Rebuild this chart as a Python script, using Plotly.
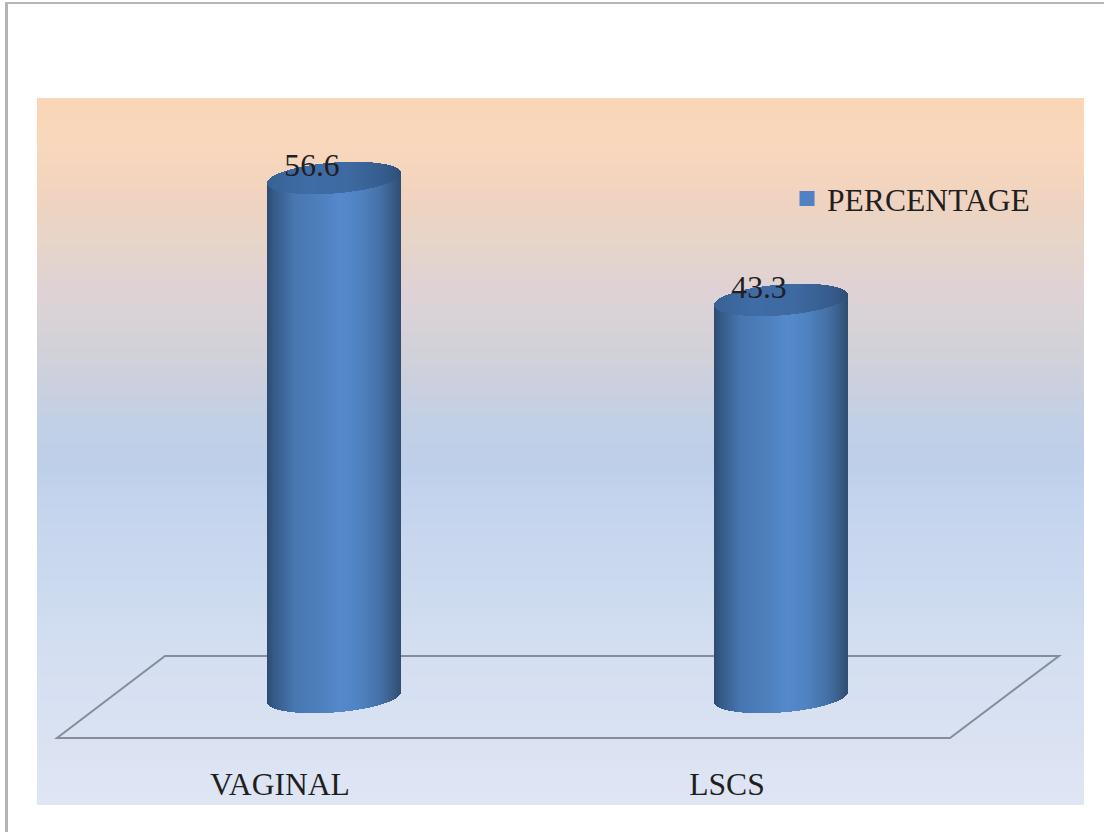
import numpy as np
import plotly.graph_objects as go

# Chart data
categories = ["VAGINAL", "LSCS"]
percentages = [56.6, 43.3]
series_name = "PERCENTAGE"

WIDTH, HEIGHT = 1104, 832
PLOT_LEFT, PLOT_RIGHT, PLOT_TOP, PLOT_BOTTOM = 37, 1084, 98, 805

# Axis scales: pixels per unit on each axis, and the pixel position of the origin
PX_PER_CATEGORY = 447.0
PX_PER_VALUE = 9.17
FIRST_CENTER_PX = 334.0
ZERO_PX = 697.0

x_range = [(PLOT_LEFT - FIRST_CENTER_PX) / PX_PER_CATEGORY,
           (PLOT_RIGHT - FIRST_CENTER_PX) / PX_PER_CATEGORY]
y_range = [(ZERO_PX - PLOT_BOTTOM) / PX_PER_VALUE,
           (ZERO_PX - PLOT_TOP) / PX_PER_VALUE]

# Cylinder shape, in pixels
RADIUS_X = 67
RADIUS_Y = 15.5
TILT = 5.0

# Shading stops across the cylinder, from left edge to right edge
BODY_STOPS = [(-1.0, (45, 75, 112)), (-0.9, (52, 90, 134)), (-0.6, (72, 118, 176)),
              (-0.2, (78, 128, 190)), (0.1, (84, 138, 205)), (0.4, (78, 130, 192)),
              (0.7, (68, 112, 166)), (0.9, (55, 90, 132)), (1.0, (48, 76, 112))]
CAP_STOPS = [(-1.0, (56, 98, 150)), (-0.4, (64, 108, 166)), (0.2, (62, 106, 162)),
             (0.8, (52, 90, 138)), (1.0, (46, 78, 120))]

# Background gradient stops: pixel row, colour
BG_STOPS = [(98, (250, 214, 183)), (144, (249, 215, 188)), (198, (240, 211, 192)),
            (241, (230, 213, 200)), (287, (224, 210, 212)), (334, (213, 210, 215)),
            (384, (203, 208, 222)), (419, (194, 208, 229)), (466, (190, 207, 234)),
            (502, (197, 212, 238)), (573, (202, 217, 238)), (644, (211, 222, 241)),
            (805, (223, 229, 243))]


def ramp(stops, t):
    pos = [s[0] for s in stops]
    return tuple(np.interp(t, pos, [s[1][c] for s in stops]) for c in range(3))


def rgb(c):
    return "rgb({:.0f},{:.0f},{:.0f})".format(*c)


def px_x(px):
    return px / WIDTH


def px_y(px):
    return 1 - px / HEIGHT


shapes = []

# Page frame: thin grey rule on the top and left
shapes.append(dict(type="rect", xref="paper", yref="paper", layer="below",
                   x0=px_x(5), x1=px_x(8), y0=px_y(2), y1=px_y(832),
                   fillcolor="#b4b4b4", line_width=0))
shapes.append(dict(type="rect", xref="paper", yref="paper", layer="below",
                   x0=px_x(5), x1=px_x(1104), y0=px_y(2), y1=px_y(4),
                   fillcolor="#b8b8b8", line_width=0))

# Plot background built from thin horizontal bands
BAND = 3
for top in range(PLOT_TOP, PLOT_BOTTOM, BAND):
    shapes.append(dict(type="rect", xref="paper", yref="paper", layer="below",
                       x0=px_x(PLOT_LEFT), x1=px_x(PLOT_RIGHT),
                       y0=px_y(top), y1=px_y(min(top + BAND, PLOT_BOTTOM)),
                       fillcolor=rgb(ramp(BG_STOPS, top + BAND / 2)), line_width=0))

# Chart floor
floor = [(57, 738), (950, 738), (1059, 656), (165, 656)]
floor_path = "M " + " L ".join(f"{px_x(a):.5f},{px_y(b):.5f}" for a, b in floor) + " Z"
shapes.append(dict(type="path", xref="paper", yref="paper", layer="below",
                   path=floor_path, line=dict(color="#858d9c", width=2)))

fig = go.Figure()

# Each cylinder is a run of one-pixel bars, each as tall as the category's value,
# standing on the front arc of the base ellipse.
u = (np.arange(-RADIUS_X, RADIUS_X) + 0.5) / RADIUS_X
arc = np.sqrt(1 - u ** 2) * RADIUS_Y / PX_PER_VALUE
slant = u * TILT / PX_PER_VALUE
slice_width = 1 / PX_PER_CATEGORY

for i, (name, value) in enumerate(zip(categories, percentages)):
    xs = i + u * RADIUS_X / PX_PER_CATEGORY
    fig.add_trace(go.Bar(
        x=xs, y=np.full_like(u, value), base=slant - arc, width=slice_width,
        marker=dict(color=[rgb(ramp(BODY_STOPS, t)) for t in u], line_width=0),
        showlegend=False, hoverinfo="skip", name=name))
    fig.add_trace(go.Bar(
        x=xs, y=2 * arc, base=value + slant - arc, width=slice_width,
        marker=dict(color=[rgb(ramp(CAP_STOPS, t)) for t in u], line_width=0),
        showlegend=False, hoverinfo="skip", name=name))

FONT = "Liberation Serif"
FONT_SIZE = 31.6
TEXT_COLOR = "#1f1f1f"

# Value labels sit toward the back-left of each cylinder's top
label_shift = 22 / PX_PER_CATEGORY
fig.add_trace(go.Scatter(
    x=[i - label_shift for i in range(len(categories))],
    y=[v + 1.1 for v in percentages],
    mode="text", text=[f"{v:.1f}" for v in percentages], textposition="middle center",
    textfont=dict(family=FONT, size=FONT_SIZE, color=TEXT_COLOR),
    showlegend=False, hoverinfo="skip"))

# Category labels below the floor, shifted with the chart's perspective
cat_shift = 54 / PX_PER_CATEGORY
fig.add_trace(go.Scatter(
    x=[i - cat_shift for i in range(len(categories))],
    y=[(ZERO_PX - 787) / PX_PER_VALUE] * len(categories),
    mode="text", text=categories, textposition="middle center",
    textfont=dict(family=FONT, size=FONT_SIZE, color=TEXT_COLOR),
    showlegend=False, hoverinfo="skip"))

# Legend entry
fig.add_trace(go.Scatter(
    x=[None], y=[None], mode="markers", name=series_name,
    marker=dict(symbol="square", size=15, color="#4f81c4")))

fig.update_layout(
    width=WIDTH, height=HEIGHT,
    margin=dict(l=0, r=0, t=0, b=0),
    paper_bgcolor="white", plot_bgcolor="rgba(0,0,0,0)",
    barmode="overlay", bargap=0,
    shapes=shapes,
    xaxis=dict(domain=[PLOT_LEFT / WIDTH, PLOT_RIGHT / WIDTH], range=x_range,
               visible=False, fixedrange=True),
    yaxis=dict(domain=[1 - PLOT_BOTTOM / HEIGHT, 1 - PLOT_TOP / HEIGHT], range=y_range,
               visible=False, fixedrange=True),
    legend=dict(x=787 / WIDTH, y=px_y(199), xanchor="left", yanchor="middle",
                bgcolor="rgba(0,0,0,0)", borderwidth=0,
                font=dict(family=FONT, size=FONT_SIZE, color=TEXT_COLOR)),
)

fig.write_html("out.html", config=dict(displayModeBar=False))
